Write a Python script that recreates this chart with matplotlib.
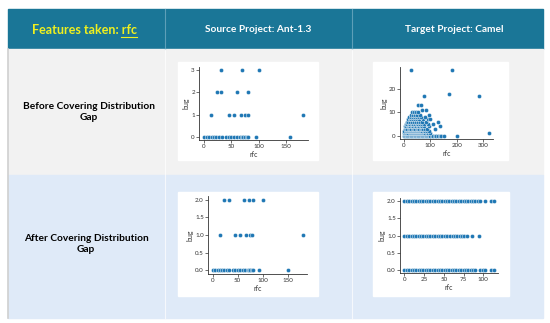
import matplotlib.pyplot as plt
from matplotlib.patches import Rectangle

W, H = 550, 323

# header / row texts
feature_title = "Features taken: "
feature_name = "rfc"
col_titles = ["Source Project: Ant-1.3", "Target Project: Camel"]
row_titles = ["Before Covering Distribution\nGap", "After Covering Distribution\nGap"]

# Ant-1.3 before (rfc values per bug count)
ant_before = {
    0: [0, 5, 10, 14, 18, 22, 28, 33, 40, 45, 50, 55, 60, 65, 70, 72, 75, 78, 80, 95, 157],
    1: [13, 45, 54, 67, 75, 80, 181],
    2: [24, 32, 61, 81],
    3: [32, 70, 101],
}
# Ant-1.3 after
ant_after = {
    0: [0, 5, 10, 14, 18, 22, 28, 33, 40, 45, 50, 55, 60, 65, 70, 72, 75, 78, 80, 93, 150],
    1: [14, 45, 54, 67, 74, 79, 179],
    2: [23, 33, 62, 72, 80, 100],
}
# Camel before
camel_before = {
    0: [1, 4, 7, 10, 13, 16, 19, 22, 25, 28, 31, 34, 37, 40, 43, 46, 49, 52, 55, 58, 61, 64,
        67, 70, 73, 76, 79, 82, 85, 88, 91, 94, 97, 100, 105, 110, 116, 122, 128, 135, 142, 150, 200],
    1: [1, 5, 9, 13, 17, 21, 25, 29, 33, 37, 41, 45, 49, 53, 57, 61, 65, 69, 73, 77, 81, 86, 92, 99, 321],
    2: [2, 6, 10, 14, 18, 22, 26, 30, 34, 38, 42, 46, 50, 54, 58, 62, 66, 70, 75, 80, 88, 95],
    3: [3, 8, 13, 18, 23, 28, 33, 38, 43, 48, 53, 58, 63, 68, 73, 80, 87, 118],
    4: [4, 9, 14, 19, 24, 29, 34, 40, 46, 52, 58, 64, 70, 76, 95, 135],
    5: [6, 12, 18, 24, 30, 36, 42, 48, 55, 62, 68, 74, 92, 110],
    6: [10, 17, 24, 31, 38, 45, 52, 60, 68, 85, 130],
    7: [14, 21, 28, 35, 42, 50, 58, 72, 90, 100],
    8: [20, 27, 34, 41, 48, 56, 66, 80],
    9: [25, 33, 41, 50, 60, 95],
    10: [30, 38, 46, 55],
    11: [70, 85],
    13: [52, 63],
    17: [76, 283],
    18: [170],
    28: [25, 183],
}
# Camel after
camel_after = {
    0: [0, 3, 6, 9, 12, 15, 18, 21, 24, 27, 30, 33, 36, 39, 42, 45, 48, 51, 54, 57, 60, 63, 66, 69,
        72, 75, 78, 81, 84, 87, 90, 96, 99, 102, 110, 113],
    1: [0, 3, 6, 9, 12, 15, 18, 21, 24, 27, 30, 33, 36, 39, 42, 45, 48, 51, 54,
        58, 61, 64, 67, 70, 73, 76, 79, 86, 94],
    2: [0, 3, 6, 9, 12, 15, 18, 21, 24, 27, 30, 33, 36, 39, 42, 45, 48, 51, 54, 57, 60, 63, 66, 69,
        72, 75, 78, 81, 84, 87, 90, 93, 96, 102, 110, 113],
}

fig = plt.figure(figsize=(W / 100, H / 100), dpi=100)
fig.patch.set_facecolor('white')
plt.rcParams['font.family'] = ['Lato', 'DejaVu Sans']

bg = fig.add_axes([0, 0, 1, 1])
bg.set_xlim(0, W)
bg.set_ylim(H, 0)
bg.axis('off')

teal = '#1a7697'
bg.add_patch(Rectangle((8, 9), 535, 40, color=teal))
bg.add_patch(Rectangle((8, 49), 535, 126, color='#f2f2f2'))
bg.add_patch(Rectangle((8, 175), 535, 143, color='#dfeaf8'))
bg.plot([8, 8], [49, 318], color='#d0d0d0', lw=1.2)
for xd in [165, 352]:
    bg.plot([xd, xd], [9, 49], color='#5e9fb8', lw=0.8)
    bg.plot([xd, xd], [49, 318], color='#ffffff', lw=0.8, alpha=0.7)

# header texts
t = bg.text(84, 30, feature_title + feature_name, color='#f0f01e', fontsize=9,
            fontweight='bold', ha='center', va='center')
fig.canvas.draw()
r = fig.canvas.get_renderer()
ext = t.get_window_extent(r)
tmp = bg.text(0, 0, feature_name, fontsize=9, fontweight='bold')
w_name = tmp.get_window_extent(r).width
tmp.remove()
ul_y = H - ext.y0 + 0.5
bg.plot([ext.x1 - w_name, ext.x1], [ul_y, ul_y], color='#f0f01e', lw=0.8)

bg.text(258, 29, col_titles[0], color='white', fontsize=7.3, fontweight='bold',
        ha='center', va='center')
bg.text(454, 29, col_titles[1], color='white', fontsize=7.3, fontweight='bold',
        ha='center', va='center')
bg.text(89, 112, row_titles[0], color='black', fontsize=7.3, fontweight='bold',
        ha='center', va='center', linespacing=1.3)
bg.text(86, 244, row_titles[1], color='black', fontsize=7.3, fontweight='bold',
        ha='center', va='center', linespacing=1.3)

# white boxes holding the plots
for (x0, y0, x1, y1) in [(178, 62, 318, 160), (373, 62, 508, 160),
                         (178, 192, 318, 296), (373, 192, 509, 296)]:
    bg.add_patch(Rectangle((x0, y0), x1 - x0, y1 - y0, color='white'))


def add_ax(x0, y0, x1, y1):
    return fig.add_axes([x0 / W, 1 - y1 / H, (x1 - x0) / W, (y1 - y0) / H])


def scatter(ax, data, xticks, yticks, ylabels=None):
    xs, ys = [], []
    for b, vals in data.items():
        xs += vals
        ys += [b] * len(vals)
    ax.scatter(xs, ys, s=9, color='#1f77b4', edgecolors='white', linewidths=0.3, zorder=3)
    ax.set_xticks(xticks)
    ax.set_yticks(yticks)
    if ylabels is not None:
        ax.set_yticklabels(ylabels)
    ax.tick_params(labelsize=4.5, length=2, width=0.5, pad=1, colors='#333333')
    for s in ['top', 'right']:
        ax.spines[s].set_visible(False)
    for s in ['left', 'bottom']:
        ax.spines[s].set_linewidth(0.6)
        ax.spines[s].set_color('#333333')
    ax.set_xlabel('rfc', fontsize=5, labelpad=1, color='#333333')
    ax.set_ylabel('bug', fontsize=5, labelpad=1, color='#333333')
    ax.set_facecolor('white')


a1 = add_ax(199, 67, 308, 140)
scatter(a1, ant_before, [0, 50, 100, 150], [0, 1, 2, 3])
a2 = add_ax(400, 67, 493, 139)
scatter(a2, camel_before, [0, 100, 200, 300], [0, 10, 20])
a3 = add_ax(208, 196, 307, 274)
scatter(a3, ant_after, [0, 50, 100, 150], [0, 0.5, 1, 1.5, 2],
        ['0.0', '0.5', '1.0', '1.5', '2.0'])
a4 = add_ax(400, 198, 498, 273)
scatter(a4, camel_after, [0, 25, 50, 75, 100], [0, 0.5, 1, 1.5, 2],
        ['0.0', '0.5', '1.0', '1.5', '2.0'])

fig.savefig('out.png', dpi=100)
